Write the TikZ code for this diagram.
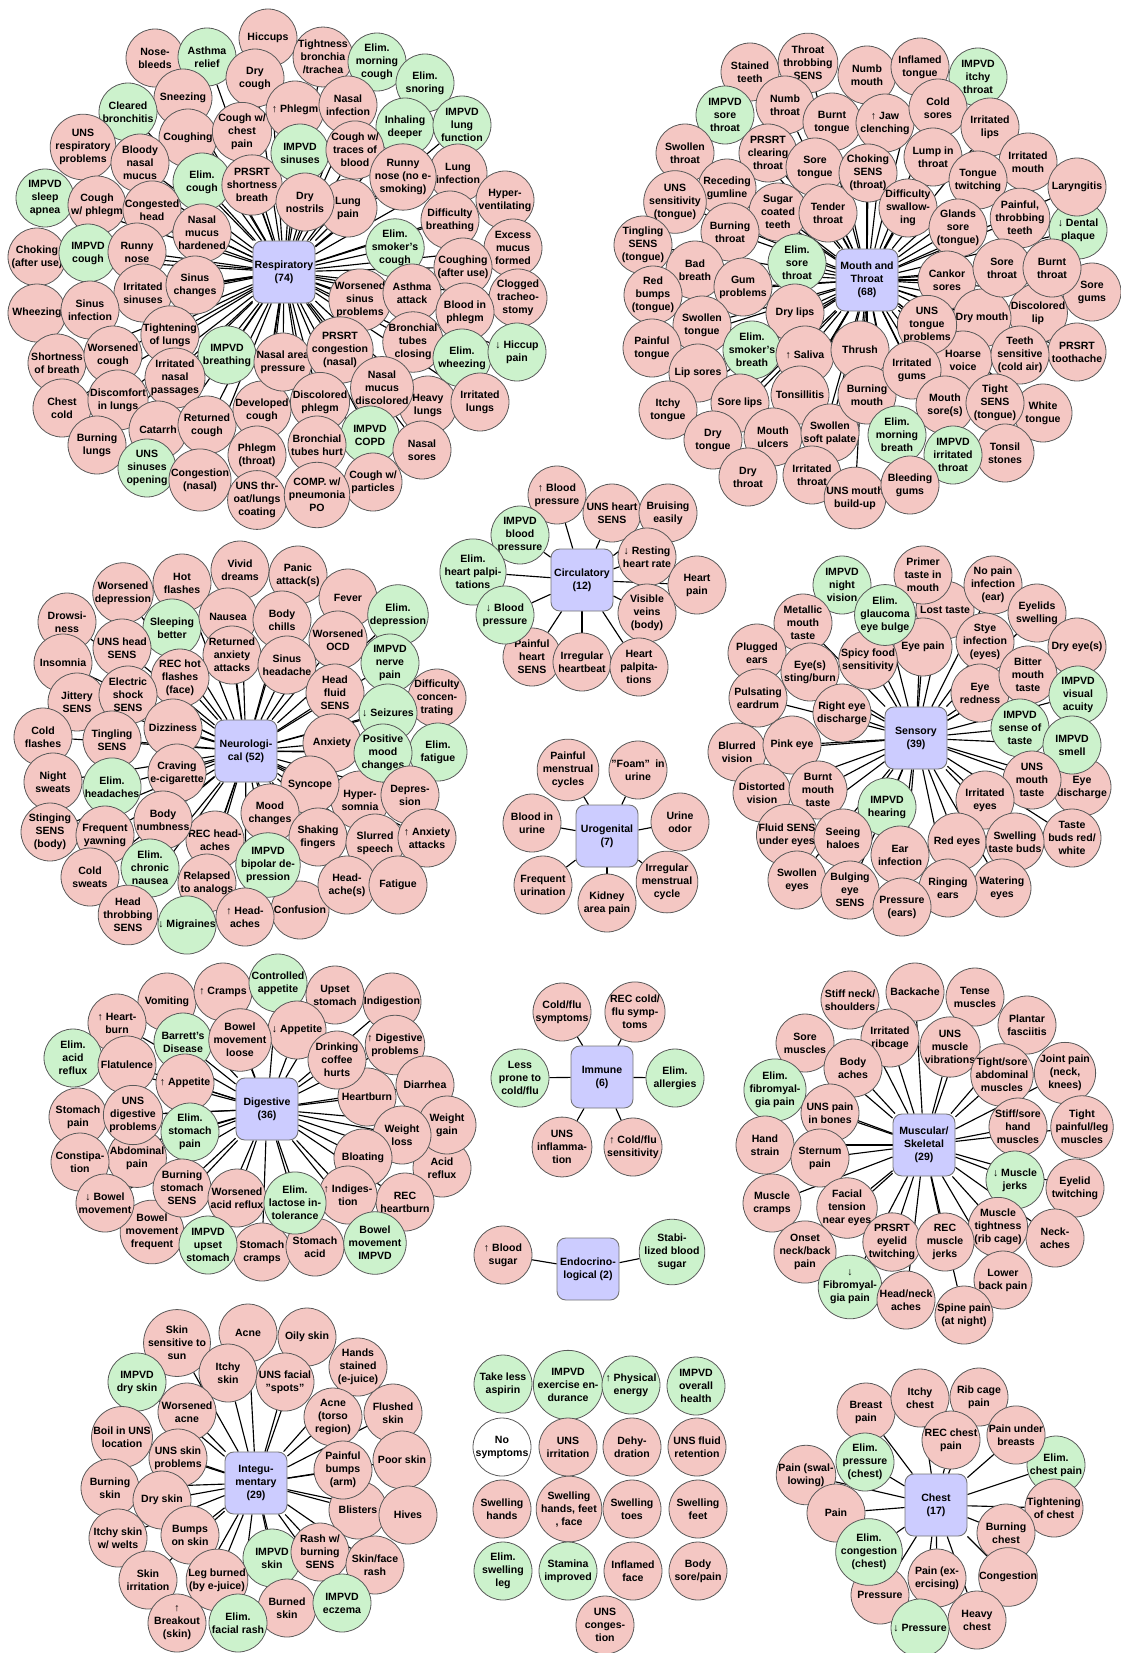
\documentclass[tikz,border=0pt]{standalone}
\usepackage{fontspec}
\setsansfont{Liberation Sans}
\usepackage{tikz}
\usetikzlibrary{backgrounds}

\definecolor{sympink}{RGB}{244,199,195}
\definecolor{symgreen}{RGB}{204,242,204}
\definecolor{hubblue}{RGB}{204,204,255}
\newcommand{\symtext}{\sffamily\bfseries\fontsize{6}{7.4}\selectfont}

\begin{document}
\begin{tikzpicture}[x=0.02cm,y=-0.02cm,
	sym/.style={circle,draw=black!65,line width=0.45pt,minimum size=1.16cm,inner sep=0pt,align=center,font=\symtext},
	pk/.style={sym,fill=sympink},
	gn/.style={sym,fill=symgreen},
	wt/.style={sym,fill=white},
	hub/.style={rectangle,rounded corners=5pt,draw=black!55,line width=0.5pt,fill=hubblue,minimum size=1.24cm,inner sep=0pt,align=center,font=\symtext},
	link/.style={line width=0.65pt}]
	\useasboundingbox (0,0) rectangle (1121,1653);

	% Respiratory
	\node[hub] (resp) at (284,272) {Respiratory\\(74)};
	\node[pk] (r1) at (268,38) {Hiccups};
	\node[pk] (r2) at (155,58) {Nose-\\bleeds};
	\node[gn] (r3) at (207,57) {Asthma\\relief};
	\node[pk] (r4) at (255,78) {Dry\\cough};
	\node[pk] (r5) at (183,98) {Sneezing};
	\node[gn] (r6) at (128,112) {Cleared\\bronchitis};
	\node[pk] (r7) at (188,138) {Coughing};
	\node[pk] (r8) at (242,132) {Cough w/\\chest\\pain};
	\node[pk] (r9) at (83,147) {UNS\\respiratory\\problems};
	\node[pk] (r10) at (140,163) {Bloody\\nasal\\mucus};
	\node[gn] (r11) at (202,182) {Elim.\\cough};
	\node[pk] (r12) at (252,185) {PRSRT\\shortness\\breath};
	\node[gn] (r13) at (45,198) {IMPVD\\sleep\\apnea};
	\node[pk] (r14) at (97,205) {Cough\\w/ phlegm};
	\node[pk] (r15) at (152,210) {Congested\\head};
	\node[pk] (r16) at (202,233) {Nasal\\mucus\\hardened};
	\node[pk] (r17) at (37,257) {Choking\\(after use)};
	\node[gn] (r18) at (88,253) {IMPVD\\cough};
	\node[pk] (r19) at (137,252) {Runny\\nose};
	\node[pk] (r20) at (143,293) {Irritated\\sinuses};
	\node[pk] (r21) at (195,285) {Sinus\\changes};
	\node[pk] (r22) at (37,313) {Wheezing};
	\node[pk] (r23) at (90,310) {Sinus\\infection};
	\node[pk] (r24) at (170,335) {Tightening\\of lungs};
	\node[pk] (r25) at (57,363) {Shortness\\of breath};
	\node[pk] (r26) at (113,355) {Worsened\\cough};
	\node[gn] (r27) at (227,355) {IMPVD\\breathing};
	\node[pk] (r28) at (175,378) {Irritated\\nasal\\passages};
	\node[pk] (r29) at (62,408) {Chest\\cold};
	\node[pk] (r30) at (118,400) {Discomfort\\in lungs};
	\node[pk] (r31) at (158,430) {Catarrh};
	\node[pk] (r32) at (207,425) {Returned\\cough};
	\node[pk] (r33) at (262,410) {Developed\\cough};
	\node[pk] (r34) at (97,445) {Burning\\lungs};
	\node[gn] (r35) at (147,468) {UNS\\sinuses\\opening};
	\node[pk] (r36) at (200,480) {Congestion\\(nasal)};
	\node[pk] (r37) at (257,455) {Phlegm\\(throat)};
	\node[pk] (r38) at (257,500) {UNS thr-\\oat/lungs\\coating};
	\node[pk] (r39) at (323,57) {Tightness\\bronchia\\/trachea};
	\node[gn] (r40) at (377,62) {Elim.\\morning\\cough};
	\node[gn] (r41) at (425,83) {Elim.\\snoring};
	\node[pk] (r42) at (295,110) {↑ Phlegm};
	\node[pk] (r43) at (348,105) {Nasal\\infection};
	\node[gn] (r44) at (405,127) {Inhaling\\deeper};
	\node[gn] (r45) at (462,125) {IMPVD\\lung\\function};
	\node[gn] (r46) at (300,153) {IMPVD\\sinuses};
	\node[pk] (r47) at (355,150) {Cough w/\\traces of\\blood};
	\node[pk] (r49) at (458,173) {Lung\\infection};
	\node[pk] (r48) at (403,177) {Runny\\nose (no e-\\smoking)};
	\node[pk] (r51) at (348,208) {Lung\\pain};
	\node[pk] (r50) at (305,202) {Dry\\nostrils};
	\node[pk] (r52) at (505,200) {Hyper-\\ventilating};
	\node[pk] (r53) at (450,220) {Difficulty\\breathing};
	\node[gn] (r54) at (395,248) {Elim.\\smoker's\\cough};
	\node[pk] (r55) at (513,248) {Excess\\mucus\\formed};
	\node[pk] (r56) at (463,267) {Coughing\\(after use)};
	\node[pk] (r57) at (360,300) {Worsened\\sinus\\problems};
	\node[pk] (r58) at (412,293) {Asthma\\attack};
	\node[pk] (r59) at (518,298) {Clogged\\tracheo-\\stomy};
	\node[pk] (r60) at (465,312) {Blood in\\phlegm};
	\node[pk] (r65) at (283,362) {Nasal area\\pressure};
	\node[pk] (r61) at (340,350) {PRSRT\\congestion\\(nasal)};
	\node[pk] (r62) at (413,342) {Bronchial\\tubes\\closing};
	\node[gn] (r63) at (462,358) {Elim.\\wheezing};
	\node[gn] (r64) at (517,352) {↓ Hiccup\\pain};
	\node[pk] (r66) at (320,402) {Discolored\\phlegm};
	\node[pk] (r68) at (428,405) {Heavy\\lungs};
	\node[pk] (r67) at (382,388) {Nasal\\mucus\\discolored};
	\node[pk] (r69) at (480,402) {Irritated\\lungs};
	\node[gn] (r70) at (370,435) {IMPVD\\COPD};
	\node[pk] (r71) at (422,450) {Nasal\\sores};
	\node[pk] (r72) at (317,445) {Bronchial\\tubes hurt};
	\node[pk] (r73) at (373,482) {Cough w/\\particles};
	\node[pk] (r74) at (317,495) {COMP. w/\\pneumonia\\PO};

	% Mouth and Throat
	\node[hub] (mouth) at (867,280) {Mouth and\\Throat\\(68)};
	\node[pk] (m1) at (750,72) {Stained\\teeth};
	\node[pk] (m2) at (808,63) {Throat\\throbbing\\SENS};
	\node[gn] (m3) at (725,115) {IMPVD\\sore\\throat};
	\node[pk] (m4) at (785,105) {Numb\\throat};
	\node[pk] (m5) at (832,122) {Burnt\\tongue};
	\node[pk] (m6) at (685,153) {Swollen\\throat};
	\node[pk] (m7) at (768,153) {PRSRT\\clearing\\throat};
	\node[pk] (m8) at (815,167) {Sore\\tongue};
	\node[pk] (m9) at (727,188) {Receding\\gumline};
	\node[pk] (m10) at (675,202) {UNS\\sensitivity\\(tongue)};
	\node[pk] (m11) at (778,212) {Sugar\\coated\\teeth};
	\node[pk] (m12) at (828,213) {Tender\\throat};
	\node[pk] (m13) at (643,245) {Tingling\\SENS\\(tongue)};
	\node[pk] (m14) at (730,232) {Burning\\throat};
	\node[gn] (m15) at (797,263) {Elim.\\sore\\throat};
	\node[pk] (m16) at (695,270) {Bad\\breath};
	\node[pk] (m17) at (653,295) {Red\\bumps\\(tongue)};
	\node[pk] (m18) at (743,287) {Gum\\problems};
	\node[pk] (m19) at (795,313) {Dry lips};
	\node[pk] (m20) at (702,325) {Swollen\\tongue};
	\node[pk] (m21) at (652,348) {Painful\\tongue};
	\node[gn] (m22) at (752,350) {Elim.\\smoker's\\breath};
	\node[pk] (m23) at (805,355) {↑ Saliva};
	\node[pk] (m24) at (698,373) {Lip sores};
	\node[pk] (m25) at (668,410) {Itchy\\tongue};
	\node[pk] (m26) at (740,403) {Sore lips};
	\node[pk] (m27) at (800,395) {Tonsillitis};
	\node[pk] (m28) at (713,440) {Dry\\tongue};
	\node[pk] (m29) at (773,437) {Mouth\\ulcers};
	\node[pk] (m30) at (830,433) {Swollen\\soft palate};
	\node[pk] (m31) at (748,477) {Dry\\throat};
	\node[pk] (m32) at (812,475) {Irritated\\throat};
	\node[pk] (m33) at (855,498) {UNS mouth\\build-up};
	\node[pk] (m34) at (860,350) {Thrush};
	\node[pk] (m35) at (867,395) {Burning\\mouth};
	\node[pk] (m36) at (867,75) {Numb\\mouth};
	\node[pk] (m37) at (920,67) {Inflamed\\tongue};
	\node[gn] (m38) at (978,77) {IMPVD\\itchy\\throat};
	\node[pk] (m39) at (885,123) {↑ Jaw\\clenching};
	\node[pk] (m40) at (938,108) {Cold\\sores};
	\node[pk] (m41) at (990,127) {Irritated\\lips};
	\node[pk] (m42) at (868,173) {Choking\\SENS\\(throat)};
	\node[pk] (m43) at (933,157) {Lump in\\throat};
	\node[pk] (m44) at (1028,162) {Irritated\\mouth};
	\node[pk] (m45) at (978,180) {Tongue\\twitching};
	\node[gn] (m50) at (1078,230) {↓ Dental\\plaque};
	\node[pk] (m46) at (1077,187) {Laryngitis};
	\node[pk] (m47) at (908,208) {Difficulty\\swallow-\\ing};
	\node[pk] (m48) at (958,228) {Glands\\sore\\(tongue)};
	\node[pk] (m49) at (1020,218) {Painful,\\throbbing\\teeth};
	\node[pk] (m54) at (1092,292) {Sore\\gums};
	\node[pk] (m51) at (947,280) {Cankor\\sores};
	\node[pk] (m57) at (1038,313) {Discolored\\lip};
	\node[pk] (m56) at (982,318) {Dry mouth};
	\node[pk] (m52) at (1002,268) {Sore\\throat};
	\node[pk] (m53) at (1052,268) {Burnt\\throat};
	\node[pk] (m58) at (963,360) {Hoarse\\voice};
	\node[pk] (m55) at (927,325) {UNS\\tongue\\problems};
	\node[pk] (m60) at (1077,352) {PRSRT\\toothache};
	\node[pk] (m59) at (1020,355) {Teeth\\sensitive\\(cold air)};
	\node[pk] (m61) at (912,370) {Irritated\\gums};
	\node[pk] (m64) at (1043,413) {White\\tongue};
	\node[pk] (m62) at (945,405) {Mouth\\sore(s)};
	\node[pk] (m63) at (995,403) {Tight\\SENS\\(tongue)};
	\node[gn] (m65) at (897,435) {Elim.\\morning\\breath};
	\node[pk] (m67) at (1005,453) {Tonsil\\stones};
	\node[gn] (m66) at (953,455) {IMPVD\\irritated\\throat};
	\node[pk] (m68) at (910,485) {Bleeding\\gums};

	% Neurological
	\node[hub] (neuro) at (246,751) {Neurologi-\\cal (52)};
	\node[pk] (n1) at (240,570) {Vivid\\dreams};
	\node[pk] (n2) at (182,583) {Hot\\flashes};
	\node[pk] (n3) at (298,575) {Panic\\attack(s)};
	\node[pk] (n4) at (123,593) {Worsened\\depression};
	\node[pk] (n5) at (348,598) {Fever};
	\node[gn] (n6) at (398,615) {Elim.\\depression};
	\node[pk] (n7) at (67,622) {Drowsi-\\ness};
	\node[gn] (n8) at (172,628) {Sleeping\\better};
	\node[pk] (n9) at (228,617) {Nausea};
	\node[pk] (n10) at (282,620) {Body\\chills};
	\node[pk] (n11) at (338,640) {Worsened\\OCD};
	\node[pk] (n12) at (122,648) {UNS head\\SENS};
	\node[pk] (n13) at (63,663) {Insomnia};
	\node[pk] (n14) at (232,655) {Returned\\anxiety\\attacks};
	\node[pk] (n15) at (287,665) {Sinus\\headache};
	\node[gn] (n16) at (390,663) {IMPVD\\nerve\\pain};
	\node[pk] (n17) at (180,678) {REC hot\\flashes\\(face)};
	\node[pk] (n21) at (437,698) {Difficulty\\concen-\\trating};
	\node[pk] (n18) at (335,693) {Head\\fluid\\SENS};
	\node[pk] (n20) at (77,702) {Jittery\\SENS};
	\node[pk] (n19) at (128,695) {Electric\\shock\\SENS};
	\node[gn] (n22) at (388,713) {↓ Seizures};
	\node[pk] (n23) at (173,728) {Dizziness};
	\node[pk] (n24) at (43,737) {Cold\\flashes};
	\node[pk] (n25) at (112,740) {Tingling\\SENS};
	\node[pk] (n33) at (360,800) {Hyper-\\somnia};
	\node[gn] (n28) at (438,752) {Elim.\\fatigue};
	\node[pk] (n26) at (332,743) {Anxiety};
	\node[gn] (n27) at (383,753) {Positive\\mood\\changes};
	\node[pk] (n29) at (177,773) {Craving\\e-cigarette};
	\node[pk] (n30) at (53,782) {Night\\sweats};
	\node[gn] (n31) at (112,787) {Elim.\\headaches};
	\node[pk] (n32) at (310,785) {Syncope};
	\node[pk] (n34) at (410,795) {Depres-\\sion};
	\node[pk] (n35) at (270,813) {Mood\\changes};
	\node[pk] (n39) at (215,840) {REC head-\\aches};
	\node[pk] (n36) at (163,820) {Body\\numbness};
	\node[pk] (n37) at (50,832) {Stinging\\SENS\\(body)};
	\node[pk] (n38) at (105,835) {Frequent\\yawning};
	\node[pk] (n40) at (318,837) {Shaking\\fingers};
	\node[pk] (n41) at (375,843) {Slurred\\speech};
	\node[pk] (n42) at (427,838) {↑ Anxiety\\attacks};
	\node[pk] (n52) at (300,910) {Confusion};
	\node[gn] (n43) at (268,865) {IMPVD\\bipolar de-\\pression};
	\node[pk] (n45) at (90,877) {Cold\\sweats};
	\node[gn] (n44) at (150,868) {Elim.\\chronic\\nausea};
	\node[pk] (n46) at (207,883) {Relapsed\\to analogs};
	\node[pk] (n47) at (347,885) {Head-\\ache(s)};
	\node[pk] (n48) at (398,885) {Fatigue};
	\node[pk] (n49) at (128,915) {Head\\throbbing\\SENS};
	\node[gn] (n50) at (187,925) {↓ Migraines};
	\node[pk] (n51) at (245,917) {↑ Head-\\aches};

	% Circulatory
	\node[hub] (circ) at (582,580) {Circulatory\\(12)};
	\node[pk] (c1) at (557,495) {↑ Blood\\pressure};
	\node[pk] (c2) at (612,513) {UNS heart\\SENS};
	\node[pk] (c3) at (668,513) {Bruising\\easily};
	\node[gn] (c4) at (520,535) {IMPVD\\blood\\pressure};
	\node[pk] (c5) at (647,557) {↓ Resting\\heart rate};
	\node[gn] (c6) at (473,572) {Elim.\\heart palpi-\\tations};
	\node[pk] (c7) at (697,585) {Heart\\pain};
	\node[pk] (c9) at (647,613) {Visible\\veins\\(body)};
	\node[pk] (c10) at (532,657) {Painful\\heart\\SENS};
	\node[gn] (c8) at (505,615) {↓ Blood\\pressure};
	\node[pk] (c11) at (582,662) {Irregular\\heartbeat};
	\node[pk] (c12) at (639,667) {Heart\\palpita-\\tions};

	% Urogenital
	\node[hub] (uro) at (607,836) {Urogenital\\(7)};
	\node[pk] (u1) at (568,770) {Painful\\menstrual\\cycles};
	\node[pk] (u2) at (638,770) {"Foam"\enspace in\\urine};
	\node[pk] (u3) at (532,823) {Blood in\\urine};
	\node[pk] (u4) at (680,822) {Urine\\odor};
	\node[pk] (u5) at (543,885) {Frequent\\urination};
	\node[pk] (u6) at (607,903) {Kidney\\area pain};
	\node[pk] (u7) at (667,882) {Irregular\\menstrual\\cycle};

	% Sensory
	\node[hub] (sens) at (916,738) {Sensory\\(39)};
	\node[pk] (s5) at (945,610) {Lost taste};
	\node[pk] (s1) at (923,575) {Primer\\taste in\\mouth};
	\node[pk] (s2) at (993,585) {No pain\\infection\\(ear)};
	\node[gn] (s3) at (842,585) {IMPVD\\night\\vision};
	\node[pk] (s9) at (923,647) {Eye pain};
	\node[pk] (s13) at (868,660) {Spicy food\\sensitivity};
	\node[gn] (s4) at (885,615) {Elim.\\glaucoma\\eye bulge};
	\node[pk] (s6) at (1037,613) {Eyelids\\swelling};
	\node[pk] (s7) at (803,623) {Metallic\\mouth\\taste};
	\node[pk] (s8) at (757,653) {Plugged\\ears};
	\node[pk] (s10) at (985,642) {Stye\\infection\\(eyes)};
	\node[pk] (s11) at (1077,647) {Dry eye(s)};
	\node[pk] (s12) at (810,672) {Eye(s)\\sting/burn};
	\node[pk] (s15) at (980,693) {Eye\\redness};
	\node[pk] (s14) at (1028,675) {Bitter\\mouth\\taste};
	\node[gn] (s16) at (1078,695) {IMPVD\\visual\\acuity};
	\node[pk] (s17) at (758,698) {Pulsating\\eardrum};
	\node[pk] (s18) at (842,713) {Right eye\\discharge};
	\node[gn] (s19) at (1020,728) {IMPVD\\sense of\\taste};
	\node[pk] (s24) at (1082,787) {Eye\\discharge};
	\node[gn] (s20) at (1072,745) {IMPVD\\smell};
	\node[pk] (s21) at (737,752) {Blurred\\vision};
	\node[pk] (s22) at (792,745) {Pink eye};
	\node[pk] (s23) at (1032,780) {UNS\\mouth\\taste};
	\node[pk] (s25) at (762,793) {Distorted\\vision};
	\node[pk] (s26) at (818,790) {Burnt\\mouth\\taste};
	\node[gn] (s27) at (887,807) {IMPVD\\hearing};
	\node[pk] (s28) at (985,800) {Irritated\\eyes};
	\node[pk] (s29) at (787,835) {Fluid SENS\\under eyes};
	\node[pk] (s30) at (843,838) {Seeing\\haloes};
	\node[pk] (s31) at (957,842) {Red eyes};
	\node[pk] (s33) at (1072,838) {Taste\\buds red/\\white};
	\node[pk] (s32) at (1015,842) {Swelling\\taste buds};
	\node[pk] (s34) at (900,855) {Ear\\infection};
	\node[pk] (s35) at (797,880) {Swollen\\eyes};
	\node[pk] (s36) at (850,890) {Bulging\\eye\\SENS};
	\node[pk] (s38) at (1002,888) {Watering\\eyes};
	\node[pk] (s37) at (948,888) {Ringing\\ears};
	\node[pk] (s39) at (902,907) {Pressure\\(ears)};

	% Digestive
	\node[hub] (dig) at (267,1109) {Digestive\\(36)};
	\node[pk] (d3) at (167,1002) {Vomiting};
	\node[pk] (d2) at (223,992) {↑ Cramps};
	\node[gn] (d1) at (278,983) {Controlled\\appetite};
	\node[pk] (d4) at (335,995) {Upset\\stomach};
	\node[pk] (d5) at (392,1002) {Indigestion};
	\node[pk] (d6) at (117,1023) {↑ Heart-\\burn};
	\node[pk] (d7) at (297,1030) {↓ Appetite};
	\node[gn] (d8) at (183,1042) {Barrett's\\Disease};
	\node[pk] (d9) at (240,1040) {Bowel\\movement\\loose};
	\node[gn] (d10) at (73,1058) {Elim.\\acid\\reflux};
	\node[pk] (d11) at (127,1065) {Flatulence};
	\node[pk] (d13) at (395,1045) {↑ Digestive\\problems};
	\node[pk] (d16) at (367,1097) {Heartburn};
	\node[pk] (d12) at (337,1060) {Drinking\\coffee\\hurts};
	\node[pk] (d14) at (185,1083) {↑ Appetite};
	\node[pk] (d15) at (425,1085) {Diarrhea};
	\node[pk] (d17) at (78,1117) {Stomach\\pain};
	\node[pk] (d23) at (137,1158) {Abdominal\\pain};
	\node[pk] (d18) at (133,1115) {UNS\\digestive\\problems};
	\node[gn] (d19) at (190,1132) {Elim.\\stomach\\pain};
	\node[pk] (d25) at (442,1168) {Acid\\reflux};
	\node[pk] (d20) at (447,1125) {Weight\\gain};
	\node[pk] (d21) at (402,1135) {Weight\\loss};
	\node[pk] (d22) at (80,1162) {Constipa-\\tion};
	\node[pk] (d24) at (363,1158) {Bloating};
	\node[pk] (d32) at (152,1232) {Bowel\\movement\\frequent};
	\node[pk] (d27) at (105,1203) {↓ Bowel\\movement};
	\node[pk] (d26) at (182,1188) {Burning\\stomach\\SENS};
	\node[pk] (d28) at (237,1198) {Worsened\\acid reflux};
	\node[pk] (d31) at (405,1202) {REC\\heartburn};
	\node[pk] (d30) at (348,1195) {↑ Indiges-\\tion};
	\node[pk] (d34) at (262,1252) {Stomach\\cramps};
	\node[pk] (d35) at (315,1247) {Stomach\\acid};
	\node[gn] (d29) at (295,1203) {Elim.\\lactose in-\\tolerance};
	\node[gn] (d33) at (208,1245) {IMPVD\\upset\\stomach};
	\node[gn] (d36) at (375,1243) {Bowel\\movement\\IMPVD};

	% Immune
	\node[hub] (imm) at (602,1077) {Immune\\(6)};
	\node[pk] (i1) at (562,1012) {Cold/flu\\symptoms};
	\node[pk] (i2) at (635,1012) {REC cold/\\flu symp-\\toms};
	\node[gn] (i3) at (520,1078) {Less\\prone to\\cold/flu};
	\node[gn] (i4) at (675,1078) {Elim.\\allergies};
	\node[pk] (i5) at (562,1147) {UNS\\inflamma-\\tion};
	\node[pk] (i6) at (633,1147) {↑ Cold/flu\\sensitivity};

	% Endocrinological
	\node[hub] (endo) at (588,1269) {Endocrino-\\logical (2)};
	\node[pk] (e1) at (503,1255) {↑ Blood\\sugar};
	\node[gn] (e2) at (672,1252) {Stabi-\\lized blood\\sugar};

	% Muscular/Skeletal
	\node[hub] (musc) at (924,1145) {Muscular/\\Skeletal\\(29)};
	\node[pk] (k1) at (915,992) {Backache};
	\node[pk] (k2) at (850,1000) {Stiff neck/\\shoulders};
	\node[pk] (k3) at (975,997) {Tense\\muscles};
	\node[pk] (k4) at (1027,1025) {Plantar\\fasciitis};
	\node[pk] (k5) at (805,1043) {Sore\\muscles};
	\node[pk] (k6) at (890,1038) {Irritated\\ribcage};
	\node[pk] (k7) at (950,1047) {UNS\\muscle\\vibrations};
	\node[pk] (k8) at (1065,1073) {Joint pain\\(neck,\\knees)};
	\node[pk] (k9) at (1002,1075) {Tight/sore\\abdominal\\muscles};
	\node[gn] (k11) at (775,1090) {Elim.\\fibromyal-\\gia pain};
	\node[pk] (k10) at (853,1068) {Body\\aches};
	\node[pk] (k12) at (830,1113) {UNS pain\\in bones};
	\node[pk] (k14) at (1082,1127) {Tight\\painful/leg\\muscles};
	\node[pk] (k13) at (1018,1127) {Stiff/sore\\hand\\muscles};
	\node[pk] (k15) at (765,1145) {Hand\\strain};
	\node[pk] (k16) at (820,1158) {Sternum\\pain};
	\node[pk] (k18) at (1075,1188) {Eyelid\\twitching};
	\node[gn] (k17) at (1015,1180) {↓ Muscle\\jerks};
	\node[pk] (k19) at (772,1203) {Muscle\\cramps};
	\node[pk] (k20) at (847,1208) {Facial\\tension\\near eyes};
	\node[pk] (k22) at (1055,1238) {Neck-\\aches};
	\node[pk] (k21) at (998,1227) {Muscle\\tightness\\(rib cage)};
	\node[pk] (k25) at (805,1252) {Onset\\neck/back\\pain};
	\node[pk] (k23) at (892,1242) {PRSRT\\eyelid\\twitching};
	\node[pk] (k24) at (945,1242) {REC\\muscle\\jerks};
	\node[pk] (k26) at (1003,1280) {Lower\\back pain};
	\node[gn] (k27) at (850,1287) {↓\\Fibromyal-\\gia pain};
	\node[pk] (k28) at (906,1300) {Head/neck\\aches};
	\node[pk] (k29) at (964,1315) {Spine pain\\(at night)};

	% Integumentary
	\node[hub] (integ) at (256,1483) {Integu-\\mentary\\(29)};
	\node[pk] (g1) at (177,1343) {Skin\\sensitive to\\sun};
	\node[pk] (g2) at (248,1333) {Acne};
	\node[pk] (g3) at (307,1337) {Oily skin};
	\node[pk] (g4) at (358,1367) {Hands\\stained\\(e-juice)};
	\node[gn] (g5) at (137,1382) {IMPVD\\dry skin};
	\node[pk] (g6) at (228,1373) {Itchy\\skin};
	\node[pk] (g7) at (285,1382) {UNS facial\\"spots"};
	\node[pk] (g8) at (187,1412) {Worsened\\acne};
	\node[pk] (g10) at (393,1413) {Flushed\\skin};
	\node[pk] (g9) at (333,1417) {Acne\\(torso\\region)};
	\node[pk] (g11) at (122,1437) {Boil in UNS\\location};
	\node[pk] (g12) at (178,1458) {UNS skin\\problems};
	\node[pk] (g13) at (402,1460) {Poor skin};
	\node[pk] (g17) at (358,1510) {Blisters};
	\node[pk] (g14) at (343,1470) {Painful\\bumps\\(arm)};
	\node[pk] (g15) at (110,1488) {Burning\\skin};
	\node[pk] (g16) at (162,1500) {Dry skin};
	\node[pk] (g18) at (408,1515) {Hives};
	\node[pk] (g19) at (118,1538) {Itchy skin\\w/ welts};
	\node[pk] (g20) at (190,1535) {Bumps\\on skin};
	\node[gn] (g21) at (272,1558) {IMPVD\\skin};
	\node[pk] (g22) at (320,1552) {Rash w/\\burning\\SENS};
	\node[pk] (g23) at (375,1565) {Skin/face\\rash};
	\node[pk] (g24) at (148,1580) {Skin\\irritation};
	\node[pk] (g25) at (217,1580) {Leg burned\\(by e-juice)};
	\node[pk] (g27) at (287,1608) {Burned\\skin};
	\node[gn] (g26) at (342,1603) {IMPVD\\eczema};
	\node[pk] (g28) at (177,1623) {↑\\Breakout\\(skin)};
	\node[gn] (g29) at (238,1623) {Elim.\\facial rash};

	% other symptoms, no category
	\node[gn] (x1) at (503,1384) {Take less\\aspirin};
	\node[gn] (x2) at (568,1385) {IMPVD\\exercise en-\\durance};
	\node[gn] (x3) at (631,1385) {↑ Physical\\energy};
	\node[gn] (x4) at (696,1386) {IMPVD\\overall\\health};
	\node[wt] (x5) at (502,1447) {No\\symptoms};
	\node[pk] (x6) at (568,1447) {UNS\\irritation};
	\node[pk] (x7) at (632,1447) {Dehy-\\dration};
	\node[pk] (x8) at (697,1447) {UNS fluid\\retention};
	\node[pk] (x9) at (502,1509) {Swelling\\hands};
	\node[pk] (x10) at (569,1509) {Swelling\\hands, feet\\, face};
	\node[pk] (x11) at (632,1509) {Swelling\\toes};
	\node[pk] (x12) at (698,1509) {Swelling\\feet};
	\node[gn] (x13) at (503,1571) {Elim.\\swelling\\leg};
	\node[gn] (x14) at (568,1571) {Stamina\\improved};
	\node[pk] (x15) at (633,1571) {Inflamed\\face};
	\node[pk] (x16) at (698,1571) {Body\\sore/pain};
	\node[pk] (x17) at (605,1625) {UNS\\conges-\\tion};

	% Chest
	\node[hub] (chest) at (936,1505) {Chest\\(17)};
	\node[pk] (h1) at (866,1412) {Breast\\pain};
	\node[pk] (h2) at (920,1398) {Itchy\\chest};
	\node[pk] (h3) at (979,1397) {Rib cage\\pain};
	\node[pk] (h4) at (951,1440) {REC chest\\pain};
	\node[gn] (h7) at (1056,1465) {Elim.\\chest pain};
	\node[pk] (h5) at (1016,1435) {Pain under\\breasts};
	\node[pk] (h8) at (806,1475) {Pain (swal-\\lowing)};
	\node[gn] (h6) at (865,1462) {Elim.\\pressure\\(chest)};
	\node[pk] (h9) at (836,1513) {Pain};
	\node[pk] (h10) at (1054,1508) {Tightening\\of chest};
	\node[pk] (h11) at (1006,1533) {Burning\\chest};
	\node[pk] (h15) at (880,1595) {Pressure};
	\node[gn] (h12) at (869,1552) {Elim.\\congestion\\(chest)};
	\node[pk] (h14) at (1008,1577) {Congestion};
	\node[pk] (h13) at (937,1578) {Pain (ex-\\ercising)};
	\node[pk] (h17) at (977,1620) {Heavy\\chest};
	\node[gn] (h16) at (920,1628) {↓ Pressure};

	\begin{pgfonlayer}{background}
	\foreach \i in {1,...,74} \draw[link] (resp) -- (r\i);
	\foreach \i in {1,...,68} \draw[link] (mouth) -- (m\i);
	\foreach \i in {1,...,52} \draw[link] (neuro) -- (n\i);
	\foreach \i in {1,...,12} \draw[link] (circ) -- (c\i);
	\foreach \i in {1,...,7} \draw[link] (uro) -- (u\i);
	\foreach \i in {1,...,39} \draw[link] (sens) -- (s\i);
	\foreach \i in {1,...,36} \draw[link] (dig) -- (d\i);
	\foreach \i in {1,...,6} \draw[link] (imm) -- (i\i);
	\foreach \i in {1,2} \draw[link] (endo) -- (e\i);
	\foreach \i in {1,...,29} \draw[link] (musc) -- (k\i);
	\foreach \i in {1,...,29} \draw[link] (integ) -- (g\i);
	\foreach \i in {1,...,17} \draw[link] (chest) -- (h\i);
	\end{pgfonlayer}
\end{tikzpicture}
\end{document}
